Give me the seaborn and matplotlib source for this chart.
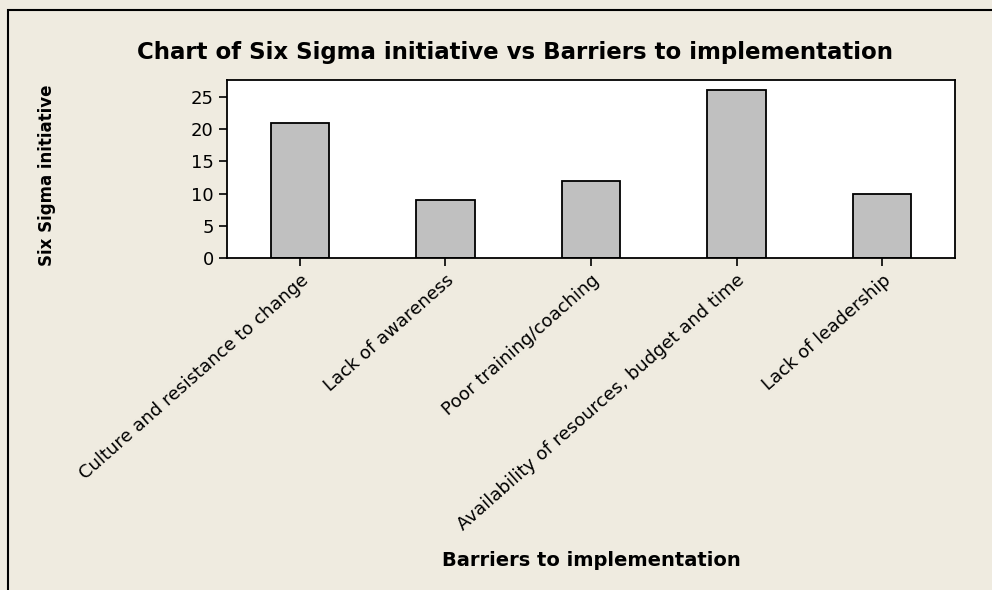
import matplotlib
matplotlib.use("Agg")
import matplotlib.pyplot as plt
import matplotlib.patches as mpatches
import pandas as pd
import seaborn as sns

# ── Data ──────────────────────────────────────────────────────
barriers = [
    "Culture and resistance to change",
    "Lack of awareness",
    "Poor training/coaching",
    "Availability of resources, budget and time",
    "Lack of leadership",
]
counts = [21, 9, 12, 26, 10]
y_ticks = [0, 5, 10, 15, 20, 25]

df = pd.DataFrame({"barrier": barriers, "count": counts})

# ── Style ─────────────────────────────────────────────────────
sns.set_theme(style="white")
plt.rcParams["font.family"] = ["DejaVu Sans"]
plt.rcParams["text.color"] = "black"
plt.rcParams["xtick.color"] = "black"
plt.rcParams["ytick.color"] = "black"
bg = "#EFEBE0"

fig = plt.figure(figsize=(9.92, 5.9), dpi=100, facecolor=bg)
ax = fig.add_axes([227 / 992, 1 - 258 / 590, 728 / 992, 178 / 590])
ax.set_facecolor("white")

sns.barplot(data=df, x="barrier", y="count", color="#C0C0C0",
            saturation=1, width=0.4, edgecolor="black", linewidth=1.3, ax=ax)

ax.set_xlim(-0.5, 4.5)
ax.set_ylim(0, 27.6)
ax.set_yticks(y_ticks)
ax.tick_params(axis="both", direction="out", length=6, width=1.2,
               color="black", labelcolor="black", labelsize=13,
               bottom=True, left=True)
plt.setp(ax.get_xticklabels(), rotation=41.5, ha="right", rotation_mode="anchor")
for s in ax.spines.values():
    s.set_color("black")
    s.set_linewidth(1.3)

ax.set_xlabel("")
ax.set_ylabel("")
fig.text(591 / 992, 1 - 561 / 590, "Barriers to implementation",
         ha="center", va="center", fontsize=14, fontweight="bold")
fig.text(47 / 992, 1 - 175 / 590, "Six Sigma initiative", rotation=90,
         ha="center", va="center", fontsize=12, fontweight="bold")
fig.text(515 / 992, 1 - 53 / 590,
         "Chart of Six Sigma initiative vs Barriers to implementation",
         ha="center", va="center", fontsize=16.5, fontweight="bold")

# outer frame (cut off at right and bottom like the reference)
frame = mpatches.Rectangle((8 / 992, -0.1), 1.2, (580 / 590) + 0.1,
                           transform=fig.transFigure, fill=False,
                           edgecolor="black", linewidth=1.5)
fig.patches.append(frame)

fig.savefig("out.png", dpi=100, facecolor=bg)
